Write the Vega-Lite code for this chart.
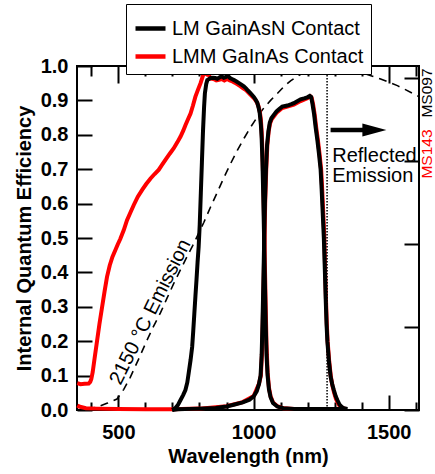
{
  "$schema": "https://vega.github.io/schema/vega-lite/v6.json",
  "width": 342,
  "height": 344,
  "autosize": {"type": "none"},
  "padding": {"left": 77, "top": 66, "right": 16, "bottom": 64},
  "config": {
    "font": "Liberation Sans",
    "view": {"stroke": "black", "strokeWidth": 2},
    "axis": {"domain": false, "grid": false, "ticks": true, "tickWidth": 2, "tickOpacity": 1, "zindex": 2, "labelColor": "black", "titleColor": "black", "labelFontSize": 20, "labelFontWeight": "bold", "titleFontSize": 20, "titleFontWeight": "bold"}
  },
  "datasets": {
    "emission": [
      {"wl": 385, "v": 0.0}, {"wl": 400, "v": 0.004}, {"wl": 430, "v": 0.011}, {"wl": 460, "v": 0.02}, {"wl": 495, "v": 0.032},
      {"wl": 520, "v": 0.06}, {"wl": 544, "v": 0.095}, {"wl": 575, "v": 0.148}, {"wl": 606, "v": 0.203}, {"wl": 630, "v": 0.243},
      {"wl": 656, "v": 0.283}, {"wl": 680, "v": 0.325}, {"wl": 705, "v": 0.368}, {"wl": 730, "v": 0.408}, {"wl": 754, "v": 0.446},
      {"wl": 775, "v": 0.478}, {"wl": 791, "v": 0.504}, {"wl": 816, "v": 0.545}, {"wl": 841, "v": 0.59}, {"wl": 866, "v": 0.633},
      {"wl": 890, "v": 0.675}, {"wl": 915, "v": 0.716}, {"wl": 940, "v": 0.755}, {"wl": 965, "v": 0.79}, {"wl": 989, "v": 0.822},
      {"wl": 1014, "v": 0.852}, {"wl": 1038, "v": 0.878}, {"wl": 1063, "v": 0.9}, {"wl": 1088, "v": 0.92}, {"wl": 1112, "v": 0.94},
      {"wl": 1137, "v": 0.957}, {"wl": 1162, "v": 0.97}, {"wl": 1186, "v": 0.981}, {"wl": 1211, "v": 0.99}, {"wl": 1236, "v": 0.996},
      {"wl": 1260, "v": 0.999}, {"wl": 1285, "v": 1.0}, {"wl": 1310, "v": 0.997}, {"wl": 1350, "v": 0.99}, {"wl": 1409, "v": 0.978},
      {"wl": 1440, "v": 0.97}, {"wl": 1470, "v": 0.962}, {"wl": 1500, "v": 0.953}, {"wl": 1532, "v": 0.943}, {"wl": 1560, "v": 0.932},
      {"wl": 1594, "v": 0.918}, {"wl": 1612, "v": 0.911}
    ],
    "iqe": [
      {"s": "LM GainAsN Contact", "t": "b1", "wl": 699, "v": 0.0}, {"s": "LM GainAsN Contact", "t": "b1", "wl": 710, "v": 0.005},
      {"s": "LM GainAsN Contact", "t": "b1", "wl": 720, "v": 0.014}, {"s": "LM GainAsN Contact", "t": "b1", "wl": 730, "v": 0.029},
      {"s": "LM GainAsN Contact", "t": "b1", "wl": 740, "v": 0.044}, {"s": "LM GainAsN Contact", "t": "b1", "wl": 748, "v": 0.058},
      {"s": "LM GainAsN Contact", "t": "b1", "wl": 755, "v": 0.08}, {"s": "LM GainAsN Contact", "t": "b1", "wl": 760, "v": 0.107},
      {"s": "LM GainAsN Contact", "t": "b1", "wl": 767, "v": 0.145}, {"s": "LM GainAsN Contact", "t": "b1", "wl": 773, "v": 0.184},
      {"s": "LM GainAsN Contact", "t": "b1", "wl": 777, "v": 0.23}, {"s": "LM GainAsN Contact", "t": "b1", "wl": 781, "v": 0.28},
      {"s": "LM GainAsN Contact", "t": "b1", "wl": 785, "v": 0.33}, {"s": "LM GainAsN Contact", "t": "b1", "wl": 789, "v": 0.378},
      {"s": "LM GainAsN Contact", "t": "b1", "wl": 793, "v": 0.43}, {"s": "LM GainAsN Contact", "t": "b1", "wl": 797, "v": 0.475},
      {"s": "LM GainAsN Contact", "t": "b1", "wl": 801, "v": 0.54}, {"s": "LM GainAsN Contact", "t": "b1", "wl": 805, "v": 0.63},
      {"s": "LM GainAsN Contact", "t": "b1", "wl": 809, "v": 0.72}, {"s": "LM GainAsN Contact", "t": "b1", "wl": 813, "v": 0.81},
      {"s": "LM GainAsN Contact", "t": "b1", "wl": 817, "v": 0.88}, {"s": "LM GainAsN Contact", "t": "b1", "wl": 820, "v": 0.92},
      {"s": "LM GainAsN Contact", "t": "b1", "wl": 825, "v": 0.948}, {"s": "LM GainAsN Contact", "t": "b1", "wl": 829, "v": 0.959},
      {"s": "LM GainAsN Contact", "t": "b1", "wl": 835, "v": 0.962}, {"s": "LM GainAsN Contact", "t": "b1", "wl": 841, "v": 0.965},
      {"s": "LM GainAsN Contact", "t": "b1", "wl": 850, "v": 0.966}, {"s": "LM GainAsN Contact", "t": "b1", "wl": 858, "v": 0.965},
      {"s": "LM GainAsN Contact", "t": "b1", "wl": 866, "v": 0.963}, {"s": "LM GainAsN Contact", "t": "b1", "wl": 875, "v": 0.967},
      {"s": "LM GainAsN Contact", "t": "b1", "wl": 882, "v": 0.97}, {"s": "LM GainAsN Contact", "t": "b1", "wl": 890, "v": 0.966},
      {"s": "LM GainAsN Contact", "t": "b1", "wl": 898, "v": 0.968}, {"s": "LM GainAsN Contact", "t": "b1", "wl": 905, "v": 0.972},
      {"s": "LM GainAsN Contact", "t": "b1", "wl": 913, "v": 0.965}, {"s": "LM GainAsN Contact", "t": "b1", "wl": 920, "v": 0.962},
      {"s": "LM GainAsN Contact", "t": "b1", "wl": 928, "v": 0.959}, {"s": "LM GainAsN Contact", "t": "b1", "wl": 937, "v": 0.955},
      {"s": "LM GainAsN Contact", "t": "b1", "wl": 945, "v": 0.951}, {"s": "LM GainAsN Contact", "t": "b1", "wl": 955, "v": 0.946},
      {"s": "LM GainAsN Contact", "t": "b1", "wl": 964, "v": 0.941}, {"s": "LM GainAsN Contact", "t": "b1", "wl": 972, "v": 0.935},
      {"s": "LM GainAsN Contact", "t": "b1", "wl": 980, "v": 0.928}, {"s": "LM GainAsN Contact", "t": "b1", "wl": 990, "v": 0.92},
      {"s": "LM GainAsN Contact", "t": "b1", "wl": 1001, "v": 0.91}, {"s": "LM GainAsN Contact", "t": "b1", "wl": 1008, "v": 0.902},
      {"s": "LM GainAsN Contact", "t": "b1", "wl": 1014, "v": 0.893}, {"s": "LM GainAsN Contact", "t": "b1", "wl": 1019, "v": 0.878},
      {"s": "LM GainAsN Contact", "t": "b1", "wl": 1023, "v": 0.862}, {"s": "LM GainAsN Contact", "t": "b1", "wl": 1027, "v": 0.83},
      {"s": "LM GainAsN Contact", "t": "b1", "wl": 1030, "v": 0.79}, {"s": "LM GainAsN Contact", "t": "b1", "wl": 1033, "v": 0.72},
      {"s": "LM GainAsN Contact", "t": "b1", "wl": 1036, "v": 0.62}, {"s": "LM GainAsN Contact", "t": "b1", "wl": 1039, "v": 0.5},
      {"s": "LM GainAsN Contact", "t": "b1", "wl": 1042, "v": 0.37}, {"s": "LM GainAsN Contact", "t": "b1", "wl": 1045, "v": 0.25},
      {"s": "LM GainAsN Contact", "t": "b1", "wl": 1048, "v": 0.16}, {"s": "LM GainAsN Contact", "t": "b1", "wl": 1052, "v": 0.1},
      {"s": "LM GainAsN Contact", "t": "b1", "wl": 1057, "v": 0.06}, {"s": "LM GainAsN Contact", "t": "b1", "wl": 1063, "v": 0.037},
      {"s": "LM GainAsN Contact", "t": "b1", "wl": 1072, "v": 0.02}, {"s": "LM GainAsN Contact", "t": "b1", "wl": 1088, "v": 0.01},
      {"s": "LM GainAsN Contact", "t": "b1", "wl": 1110, "v": 0.005}, {"s": "LM GainAsN Contact", "t": "b1", "wl": 1150, "v": 0.003},
      {"s": "LM GainAsN Contact", "t": "b1", "wl": 1250, "v": 0.003}, {"s": "LM GainAsN Contact", "t": "b1", "wl": 1347, "v": 0.003},

      {"s": "LM GainAsN Contact", "t": "b2", "wl": 699, "v": 0.0}, {"s": "LM GainAsN Contact", "t": "b2", "wl": 720, "v": 0.002},
      {"s": "LM GainAsN Contact", "t": "b2", "wl": 800, "v": 0.004}, {"s": "LM GainAsN Contact", "t": "b2", "wl": 860, "v": 0.006},
      {"s": "LM GainAsN Contact", "t": "b2", "wl": 900, "v": 0.01}, {"s": "LM GainAsN Contact", "t": "b2", "wl": 930, "v": 0.016},
      {"s": "LM GainAsN Contact", "t": "b2", "wl": 960, "v": 0.022}, {"s": "LM GainAsN Contact", "t": "b2", "wl": 985, "v": 0.03},
      {"s": "LM GainAsN Contact", "t": "b2", "wl": 1001, "v": 0.04}, {"s": "LM GainAsN Contact", "t": "b2", "wl": 1012, "v": 0.055},
      {"s": "LM GainAsN Contact", "t": "b2", "wl": 1020, "v": 0.075}, {"s": "LM GainAsN Contact", "t": "b2", "wl": 1026, "v": 0.1},
      {"s": "LM GainAsN Contact", "t": "b2", "wl": 1030, "v": 0.16}, {"s": "LM GainAsN Contact", "t": "b2", "wl": 1033, "v": 0.25},
      {"s": "LM GainAsN Contact", "t": "b2", "wl": 1036, "v": 0.36}, {"s": "LM GainAsN Contact", "t": "b2", "wl": 1039, "v": 0.48},
      {"s": "LM GainAsN Contact", "t": "b2", "wl": 1042, "v": 0.6}, {"s": "LM GainAsN Contact", "t": "b2", "wl": 1046, "v": 0.7},
      {"s": "LM GainAsN Contact", "t": "b2", "wl": 1050, "v": 0.77}, {"s": "LM GainAsN Contact", "t": "b2", "wl": 1055, "v": 0.81},
      {"s": "LM GainAsN Contact", "t": "b2", "wl": 1060, "v": 0.835}, {"s": "LM GainAsN Contact", "t": "b2", "wl": 1066, "v": 0.848},
      {"s": "LM GainAsN Contact", "t": "b2", "wl": 1075, "v": 0.858}, {"s": "LM GainAsN Contact", "t": "b2", "wl": 1085, "v": 0.868},
      {"s": "LM GainAsN Contact", "t": "b2", "wl": 1095, "v": 0.875}, {"s": "LM GainAsN Contact", "t": "b2", "wl": 1106, "v": 0.882},
      {"s": "LM GainAsN Contact", "t": "b2", "wl": 1125, "v": 0.885}, {"s": "LM GainAsN Contact", "t": "b2", "wl": 1140, "v": 0.889},
      {"s": "LM GainAsN Contact", "t": "b2", "wl": 1149, "v": 0.892}, {"s": "LM GainAsN Contact", "t": "b2", "wl": 1160, "v": 0.897},
      {"s": "LM GainAsN Contact", "t": "b2", "wl": 1174, "v": 0.903}, {"s": "LM GainAsN Contact", "t": "b2", "wl": 1187, "v": 0.906},
      {"s": "LM GainAsN Contact", "t": "b2", "wl": 1199, "v": 0.909}, {"s": "LM GainAsN Contact", "t": "b2", "wl": 1208, "v": 0.913},
      {"s": "LM GainAsN Contact", "t": "b2", "wl": 1213, "v": 0.91}, {"s": "LM GainAsN Contact", "t": "b2", "wl": 1218, "v": 0.89},
      {"s": "LM GainAsN Contact", "t": "b2", "wl": 1224, "v": 0.86}, {"s": "LM GainAsN Contact", "t": "b2", "wl": 1230, "v": 0.82},
      {"s": "LM GainAsN Contact", "t": "b2", "wl": 1236, "v": 0.785}, {"s": "LM GainAsN Contact", "t": "b2", "wl": 1242, "v": 0.745},
      {"s": "LM GainAsN Contact", "t": "b2", "wl": 1248, "v": 0.7}, {"s": "LM GainAsN Contact", "t": "b2", "wl": 1252, "v": 0.64},
      {"s": "LM GainAsN Contact", "t": "b2", "wl": 1256, "v": 0.57}, {"s": "LM GainAsN Contact", "t": "b2", "wl": 1260, "v": 0.5},
      {"s": "LM GainAsN Contact", "t": "b2", "wl": 1264, "v": 0.4}, {"s": "LM GainAsN Contact", "t": "b2", "wl": 1267, "v": 0.32},
      {"s": "LM GainAsN Contact", "t": "b2", "wl": 1270, "v": 0.25}, {"s": "LM GainAsN Contact", "t": "b2", "wl": 1273, "v": 0.2},
      {"s": "LM GainAsN Contact", "t": "b2", "wl": 1279, "v": 0.14}, {"s": "LM GainAsN Contact", "t": "b2", "wl": 1285, "v": 0.097},
      {"s": "LM GainAsN Contact", "t": "b2", "wl": 1291, "v": 0.075}, {"s": "LM GainAsN Contact", "t": "b2", "wl": 1297, "v": 0.058},
      {"s": "LM GainAsN Contact", "t": "b2", "wl": 1304, "v": 0.04}, {"s": "LM GainAsN Contact", "t": "b2", "wl": 1310, "v": 0.029},
      {"s": "LM GainAsN Contact", "t": "b2", "wl": 1318, "v": 0.016}, {"s": "LM GainAsN Contact", "t": "b2", "wl": 1326, "v": 0.009},
      {"s": "LM GainAsN Contact", "t": "b2", "wl": 1334, "v": 0.005}, {"s": "LM GainAsN Contact", "t": "b2", "wl": 1347, "v": 0.003},

      {"s": "LMM GaInAs Contact", "t": "r1", "wl": 348, "v": 0.078}, {"s": "LMM GaInAs Contact", "t": "r1", "wl": 360, "v": 0.075},
      {"s": "LMM GaInAs Contact", "t": "r1", "wl": 375, "v": 0.076}, {"s": "LMM GaInAs Contact", "t": "r1", "wl": 390, "v": 0.077},
      {"s": "LMM GaInAs Contact", "t": "r1", "wl": 396, "v": 0.082}, {"s": "LMM GaInAs Contact", "t": "r1", "wl": 400, "v": 0.09},
      {"s": "LMM GaInAs Contact", "t": "r1", "wl": 405, "v": 0.11}, {"s": "LMM GaInAs Contact", "t": "r1", "wl": 412, "v": 0.15},
      {"s": "LMM GaInAs Contact", "t": "r1", "wl": 421, "v": 0.2}, {"s": "LMM GaInAs Contact", "t": "r1", "wl": 430, "v": 0.25},
      {"s": "LMM GaInAs Contact", "t": "r1", "wl": 440, "v": 0.3}, {"s": "LMM GaInAs Contact", "t": "r1", "wl": 449, "v": 0.345},
      {"s": "LMM GaInAs Contact", "t": "r1", "wl": 458, "v": 0.387}, {"s": "LMM GaInAs Contact", "t": "r1", "wl": 468, "v": 0.42},
      {"s": "LMM GaInAs Contact", "t": "r1", "wl": 478, "v": 0.445}, {"s": "LMM GaInAs Contact", "t": "r1", "wl": 489, "v": 0.465},
      {"s": "LMM GaInAs Contact", "t": "r1", "wl": 498, "v": 0.482}, {"s": "LMM GaInAs Contact", "t": "r1", "wl": 507, "v": 0.497},
      {"s": "LMM GaInAs Contact", "t": "r1", "wl": 520, "v": 0.523}, {"s": "LMM GaInAs Contact", "t": "r1", "wl": 532, "v": 0.552},
      {"s": "LMM GaInAs Contact", "t": "r1", "wl": 545, "v": 0.575}, {"s": "LMM GaInAs Contact", "t": "r1", "wl": 557, "v": 0.596},
      {"s": "LMM GaInAs Contact", "t": "r1", "wl": 572, "v": 0.62}, {"s": "LMM GaInAs Contact", "t": "r1", "wl": 588, "v": 0.64},
      {"s": "LMM GaInAs Contact", "t": "r1", "wl": 603, "v": 0.657}, {"s": "LMM GaInAs Contact", "t": "r1", "wl": 619, "v": 0.673},
      {"s": "LMM GaInAs Contact", "t": "r1", "wl": 634, "v": 0.686}, {"s": "LMM GaInAs Contact", "t": "r1", "wl": 649, "v": 0.698},
      {"s": "LMM GaInAs Contact", "t": "r1", "wl": 662, "v": 0.713}, {"s": "LMM GaInAs Contact", "t": "r1", "wl": 674, "v": 0.727},
      {"s": "LMM GaInAs Contact", "t": "r1", "wl": 690, "v": 0.745}, {"s": "LMM GaInAs Contact", "t": "r1", "wl": 705, "v": 0.761},
      {"s": "LMM GaInAs Contact", "t": "r1", "wl": 718, "v": 0.778}, {"s": "LMM GaInAs Contact", "t": "r1", "wl": 730, "v": 0.795},
      {"s": "LMM GaInAs Contact", "t": "r1", "wl": 740, "v": 0.812}, {"s": "LMM GaInAs Contact", "t": "r1", "wl": 748, "v": 0.828},
      {"s": "LMM GaInAs Contact", "t": "r1", "wl": 758, "v": 0.846}, {"s": "LMM GaInAs Contact", "t": "r1", "wl": 767, "v": 0.862},
      {"s": "LMM GaInAs Contact", "t": "r1", "wl": 776, "v": 0.885}, {"s": "LMM GaInAs Contact", "t": "r1", "wl": 785, "v": 0.911},
      {"s": "LMM GaInAs Contact", "t": "r1", "wl": 795, "v": 0.932}, {"s": "LMM GaInAs Contact", "t": "r1", "wl": 804, "v": 0.95},
      {"s": "LMM GaInAs Contact", "t": "r1", "wl": 810, "v": 0.965}, {"s": "LMM GaInAs Contact", "t": "r1", "wl": 816, "v": 0.979},
      {"s": "LMM GaInAs Contact", "t": "r1", "wl": 822, "v": 0.978}, {"s": "LMM GaInAs Contact", "t": "r1", "wl": 828, "v": 0.975},
      {"s": "LMM GaInAs Contact", "t": "r1", "wl": 834, "v": 0.974}, {"s": "LMM GaInAs Contact", "t": "r1", "wl": 842, "v": 0.963},
      {"s": "LMM GaInAs Contact", "t": "r1", "wl": 852, "v": 0.962}, {"s": "LMM GaInAs Contact", "t": "r1", "wl": 862, "v": 0.958},
      {"s": "LMM GaInAs Contact", "t": "r1", "wl": 872, "v": 0.96}, {"s": "LMM GaInAs Contact", "t": "r1", "wl": 882, "v": 0.962},
      {"s": "LMM GaInAs Contact", "t": "r1", "wl": 892, "v": 0.958}, {"s": "LMM GaInAs Contact", "t": "r1", "wl": 902, "v": 0.962},
      {"s": "LMM GaInAs Contact", "t": "r1", "wl": 912, "v": 0.958}, {"s": "LMM GaInAs Contact", "t": "r1", "wl": 922, "v": 0.955},
      {"s": "LMM GaInAs Contact", "t": "r1", "wl": 932, "v": 0.951}, {"s": "LMM GaInAs Contact", "t": "r1", "wl": 942, "v": 0.946},
      {"s": "LMM GaInAs Contact", "t": "r1", "wl": 952, "v": 0.941}, {"s": "LMM GaInAs Contact", "t": "r1", "wl": 962, "v": 0.935},
      {"s": "LMM GaInAs Contact", "t": "r1", "wl": 972, "v": 0.93}, {"s": "LMM GaInAs Contact", "t": "r1", "wl": 982, "v": 0.922},
      {"s": "LMM GaInAs Contact", "t": "r1", "wl": 992, "v": 0.914}, {"s": "LMM GaInAs Contact", "t": "r1", "wl": 1003, "v": 0.905},
      {"s": "LMM GaInAs Contact", "t": "r1", "wl": 1012, "v": 0.895}, {"s": "LMM GaInAs Contact", "t": "r1", "wl": 1018, "v": 0.884},
      {"s": "LMM GaInAs Contact", "t": "r1", "wl": 1023, "v": 0.868}, {"s": "LMM GaInAs Contact", "t": "r1", "wl": 1027, "v": 0.845},
      {"s": "LMM GaInAs Contact", "t": "r1", "wl": 1030, "v": 0.81}, {"s": "LMM GaInAs Contact", "t": "r1", "wl": 1033, "v": 0.75},
      {"s": "LMM GaInAs Contact", "t": "r1", "wl": 1036, "v": 0.66}, {"s": "LMM GaInAs Contact", "t": "r1", "wl": 1039, "v": 0.55},
      {"s": "LMM GaInAs Contact", "t": "r1", "wl": 1042, "v": 0.42}, {"s": "LMM GaInAs Contact", "t": "r1", "wl": 1045, "v": 0.3},
      {"s": "LMM GaInAs Contact", "t": "r1", "wl": 1048, "v": 0.19}, {"s": "LMM GaInAs Contact", "t": "r1", "wl": 1052, "v": 0.11},
      {"s": "LMM GaInAs Contact", "t": "r1", "wl": 1057, "v": 0.065}, {"s": "LMM GaInAs Contact", "t": "r1", "wl": 1063, "v": 0.04},
      {"s": "LMM GaInAs Contact", "t": "r1", "wl": 1072, "v": 0.022}, {"s": "LMM GaInAs Contact", "t": "r1", "wl": 1088, "v": 0.011},
      {"s": "LMM GaInAs Contact", "t": "r1", "wl": 1110, "v": 0.005}, {"s": "LMM GaInAs Contact", "t": "r1", "wl": 1150, "v": 0.003},
      {"s": "LMM GaInAs Contact", "t": "r1", "wl": 1340, "v": 0.003},

      {"s": "LMM GaInAs Contact", "t": "r2", "wl": 348, "v": 0.013}, {"s": "LMM GaInAs Contact", "t": "r2", "wl": 355, "v": 0.01},
      {"s": "LMM GaInAs Contact", "t": "r2", "wl": 365, "v": 0.008}, {"s": "LMM GaInAs Contact", "t": "r2", "wl": 380, "v": 0.005},
      {"s": "LMM GaInAs Contact", "t": "r2", "wl": 420, "v": 0.004}, {"s": "LMM GaInAs Contact", "t": "r2", "wl": 500, "v": 0.003},
      {"s": "LMM GaInAs Contact", "t": "r2", "wl": 600, "v": 0.002}, {"s": "LMM GaInAs Contact", "t": "r2", "wl": 700, "v": 0.002},
      {"s": "LMM GaInAs Contact", "t": "r2", "wl": 800, "v": 0.004}, {"s": "LMM GaInAs Contact", "t": "r2", "wl": 900, "v": 0.011},
      {"s": "LMM GaInAs Contact", "t": "r2", "wl": 960, "v": 0.023}, {"s": "LMM GaInAs Contact", "t": "r2", "wl": 1001, "v": 0.041},
      {"s": "LMM GaInAs Contact", "t": "r2", "wl": 1020, "v": 0.076}, {"s": "LMM GaInAs Contact", "t": "r2", "wl": 1027, "v": 0.1},
      {"s": "LMM GaInAs Contact", "t": "r2", "wl": 1031, "v": 0.16}, {"s": "LMM GaInAs Contact", "t": "r2", "wl": 1034, "v": 0.25},
      {"s": "LMM GaInAs Contact", "t": "r2", "wl": 1037, "v": 0.36}, {"s": "LMM GaInAs Contact", "t": "r2", "wl": 1040, "v": 0.48},
      {"s": "LMM GaInAs Contact", "t": "r2", "wl": 1043, "v": 0.6}, {"s": "LMM GaInAs Contact", "t": "r2", "wl": 1047, "v": 0.7},
      {"s": "LMM GaInAs Contact", "t": "r2", "wl": 1051, "v": 0.77}, {"s": "LMM GaInAs Contact", "t": "r2", "wl": 1056, "v": 0.81},
      {"s": "LMM GaInAs Contact", "t": "r2", "wl": 1061, "v": 0.833}, {"s": "LMM GaInAs Contact", "t": "r2", "wl": 1067, "v": 0.845},
      {"s": "LMM GaInAs Contact", "t": "r2", "wl": 1085, "v": 0.864}, {"s": "LMM GaInAs Contact", "t": "r2", "wl": 1106, "v": 0.878},
      {"s": "LMM GaInAs Contact", "t": "r2", "wl": 1125, "v": 0.882}, {"s": "LMM GaInAs Contact", "t": "r2", "wl": 1149, "v": 0.888},
      {"s": "LMM GaInAs Contact", "t": "r2", "wl": 1174, "v": 0.898}, {"s": "LMM GaInAs Contact", "t": "r2", "wl": 1199, "v": 0.906},
      {"s": "LMM GaInAs Contact", "t": "r2", "wl": 1210, "v": 0.912}, {"s": "LMM GaInAs Contact", "t": "r2", "wl": 1215, "v": 0.908},
      {"s": "LMM GaInAs Contact", "t": "r2", "wl": 1220, "v": 0.89}, {"s": "LMM GaInAs Contact", "t": "r2", "wl": 1226, "v": 0.86},
      {"s": "LMM GaInAs Contact", "t": "r2", "wl": 1232, "v": 0.82}, {"s": "LMM GaInAs Contact", "t": "r2", "wl": 1238, "v": 0.785},
      {"s": "LMM GaInAs Contact", "t": "r2", "wl": 1244, "v": 0.745}, {"s": "LMM GaInAs Contact", "t": "r2", "wl": 1250, "v": 0.7},
      {"s": "LMM GaInAs Contact", "t": "r2", "wl": 1254, "v": 0.64}, {"s": "LMM GaInAs Contact", "t": "r2", "wl": 1258, "v": 0.57},
      {"s": "LMM GaInAs Contact", "t": "r2", "wl": 1262, "v": 0.5}, {"s": "LMM GaInAs Contact", "t": "r2", "wl": 1265, "v": 0.4},
      {"s": "LMM GaInAs Contact", "t": "r2", "wl": 1268, "v": 0.32}, {"s": "LMM GaInAs Contact", "t": "r2", "wl": 1271, "v": 0.25},
      {"s": "LMM GaInAs Contact", "t": "r2", "wl": 1274, "v": 0.2}, {"s": "LMM GaInAs Contact", "t": "r2", "wl": 1280, "v": 0.14},
      {"s": "LMM GaInAs Contact", "t": "r2", "wl": 1286, "v": 0.097}, {"s": "LMM GaInAs Contact", "t": "r2", "wl": 1292, "v": 0.07},
      {"s": "LMM GaInAs Contact", "t": "r2", "wl": 1298, "v": 0.05}, {"s": "LMM GaInAs Contact", "t": "r2", "wl": 1305, "v": 0.032},
      {"s": "LMM GaInAs Contact", "t": "r2", "wl": 1312, "v": 0.02}, {"s": "LMM GaInAs Contact", "t": "r2", "wl": 1320, "v": 0.01},
      {"s": "LMM GaInAs Contact", "t": "r2", "wl": 1330, "v": 0.005}, {"s": "LMM GaInAs Contact", "t": "r2", "wl": 1340, "v": 0.003}
    ],
    "annot": [
      {"kind": "cutoff", "wl": 1272},
      {"kind": "arrow", "wl": 1285, "wl2": 1425, "v": 0.814},
      {"kind": "head", "wl": 1447, "v": 0.814},
      {"kind": "bb", "label": "2150 °C Emission", "wl": 618, "v": 0.285},
      {"kind": "refl", "label": "Reflected", "wl": 1291, "v": 0.7218},
      {"kind": "refl", "label": "Emission", "wl": 1291, "v": 0.6637},
      {"kind": "ms097", "label": "MS097", "wl": 1641, "v": 0.9215},
      {"kind": "ms143", "label": "MS143", "wl": 1641, "v": 0.7442}
    ]
  },
  "resolve": {"axis": {"x": "independent", "y": "independent"}},
  "layer": [
    {
      "data": {"name": "emission"},
      "mark": {"type": "line", "color": "black", "strokeWidth": 1.6, "strokeDash": [8, 6]},
      "encoding": {
        "x": {"field": "wl", "type": "quantitative", "scale": {"domain": [347, 1612], "nice": false, "zero": false}, "axis": null},
        "y": {"field": "v", "type": "quantitative", "scale": {"domain": [0, 1], "nice": false, "zero": false}, "axis": null}
      }
    },
    {
      "data": {"name": "iqe"},
      "transform": [{"filter": "datum.t === 'r1'"}],
      "mark": {"type": "line", "strokeWidth": 4, "color": "#ff0000"},
      "encoding": {
        "x": {"field": "wl", "type": "quantitative", "scale": {"domain": [347, 1612], "nice": false, "zero": false}, "axis": null},
        "y": {"field": "v", "type": "quantitative", "scale": {"domain": [0, 1], "nice": false, "zero": false}, "axis": null}
      }
    },
    {
      "data": {"name": "iqe"},
      "transform": [{"filter": "datum.t === 'r2'"}],
      "mark": {"type": "line", "strokeWidth": 4, "color": "#ff0000"},
      "encoding": {
        "x": {"field": "wl", "type": "quantitative", "scale": {"domain": [347, 1612], "nice": false, "zero": false}, "axis": null},
        "y": {"field": "v", "type": "quantitative", "scale": {"domain": [0, 1], "nice": false, "zero": false}, "axis": null}
      }
    },
    {
      "data": {"name": "iqe"},
      "transform": [{"filter": "datum.t === 'b1'"}],
      "mark": {"type": "line", "strokeWidth": 4, "color": "#000000"},
      "encoding": {
        "x": {"field": "wl", "type": "quantitative", "scale": {"domain": [347, 1612], "nice": false, "zero": false}, "axis": null},
        "y": {"field": "v", "type": "quantitative", "scale": {"domain": [0, 1], "nice": false, "zero": false}, "axis": null}
      }
    },
    {
      "data": {"name": "iqe"},
      "transform": [{"filter": "datum.t === 'b2'"}],
      "mark": {"type": "line", "strokeWidth": 4, "color": "#000000"},
      "encoding": {
        "x": {"field": "wl", "type": "quantitative", "scale": {"domain": [347, 1612], "nice": false, "zero": false}, "axis": null},
        "y": {"field": "v", "type": "quantitative", "scale": {"domain": [0, 1], "nice": false, "zero": false}, "axis": null}
      }
    },
    {
      "data": {"name": "iqe"},
      "transform": [{"filter": "false"}],
      "mark": {"type": "rule", "strokeWidth": 4},
      "encoding": {
        "x": {"field": "wl", "type": "quantitative", "scale": {"domain": [347, 1612], "nice": false, "zero": false}, "axis": null},
        "y": {"field": "v", "type": "quantitative", "scale": {"domain": [0, 1], "nice": false, "zero": false}, "axis": null},
        "color": {"field": "s", "type": "nominal",
          "scale": {"domain": ["LM GainAsN Contact", "LMM GaInAs Contact"], "range": ["#000000", "#ff0000"]},
          "legend": {"title": null, "orient": "none", "legendX": 49, "legendY": -62, "strokeColor": "black", "fillColor": "white", "padding": 7, "labelFontSize": 20, "labelColor": "black", "symbolType": "stroke", "symbolSize": 900, "symbolStrokeWidth": 4.5, "labelOffset": 4, "rowPadding": 0, "labelLimit": 400}}
      }
    },
    {
      "data": {"name": "annot"},
      "transform": [{"filter": "datum.kind === 'cutoff'"}],
      "mark": {"type": "rule", "color": "black", "strokeWidth": 1.5, "strokeDash": [1.5, 1.5]},
      "encoding": {
        "x": {"field": "wl", "type": "quantitative", "scale": {"domain": [347, 1612], "nice": false, "zero": false}, "axis": null}
      }
    },
    {
      "data": {"name": "annot"},
      "transform": [{"filter": "datum.kind === 'arrow'"}],
      "mark": {"type": "rule", "color": "black", "strokeWidth": 4.5},
      "encoding": {
        "x": {"field": "wl", "type": "quantitative", "scale": {"domain": [347, 1612], "nice": false, "zero": false},
          "axis": {"orient": "bottom", "values": [500, 1000, 1500], "format": "d", "ticks": true, "tickSize": -15, "tickColor": "black",
            "labelPadding": 27, "title": "Wavelength (nm)", "titlePadding": 4}},
        "x2": {"field": "wl2"},
        "y": {"field": "v", "type": "quantitative", "scale": {"domain": [0, 1], "nice": false, "zero": false},
          "axis": {"orient": "left", "values": [0, 0.1, 0.2, 0.3, 0.4, 0.5, 0.6, 0.7, 0.8, 0.9, 1.0], "format": ".1f", "ticks": true,
            "tickSize": -15, "tickColor": "black", "labelPadding": 24,
            "title": "Internal Quantum Efficiency", "titlePadding": 6}}
      }
    },
    {
      "data": {"name": "annot"},
      "transform": [{"filter": "datum.kind === 'head'"}],
      "mark": {"type": "point", "shape": "M-1,-0.55L1,0L-1,0.55Z", "size": 576, "filled": true, "color": "black", "opacity": 1, "strokeWidth": 0},
      "encoding": {
        "x": {"field": "wl", "type": "quantitative", "scale": {"domain": [347, 1612], "nice": false, "zero": false},
          "axis": {"orient": "top", "values": [500, 1000, 1500], "labels": false, "title": null, "ticks": true, "tickSize": -17, "tickColor": "black"}},
        "y": {"field": "v", "type": "quantitative", "scale": {"domain": [0, 1], "nice": false, "zero": false},
          "axis": {"orient": "right", "values": [0, 0.2413, 0.4826, 0.7238, 0.9651], "labels": false, "title": null, "ticks": true, "tickSize": -15, "tickColor": "black"}}
      }
    },
    {
      "data": {"name": "annot"},
      "transform": [{"filter": "datum.kind === 'bb'"}],
      "mark": {"type": "text", "fontSize": 20, "angle": 296.3, "align": "center", "baseline": "middle", "color": "black"},
      "encoding": {
        "x": {"field": "wl", "type": "quantitative", "scale": {"domain": [347, 1612], "nice": false, "zero": false},
          "axis": {"orient": "bottom", "values": [400, 600, 700, 800, 900, 1100, 1200, 1300, 1400, 1600], "labels": false, "title": null, "ticks": true, "tickSize": -8, "tickColor": "black"}},
        "y": {"field": "v", "type": "quantitative", "scale": {"domain": [0, 1], "nice": false, "zero": false}, "axis": null},
        "text": {"field": "label"}
      }
    },
    {
      "data": {"name": "annot"},
      "transform": [{"filter": "datum.kind === 'refl'"}],
      "mark": {"type": "text", "fontSize": 20, "align": "left", "baseline": "alphabetic", "color": "black"},
      "encoding": {
        "x": {"field": "wl", "type": "quantitative", "scale": {"domain": [347, 1612], "nice": false, "zero": false},
          "axis": {"orient": "top", "values": [400, 600, 700, 800, 900, 1100, 1200, 1300, 1400, 1600], "labels": false, "title": null, "ticks": true, "tickSize": -10, "tickColor": "black"}},
        "y": {"field": "v", "type": "quantitative", "scale": {"domain": [0, 1], "nice": false, "zero": false}, "axis": null},
        "text": {"field": "label"}
      }
    },
    {
      "data": {"name": "annot"},
      "transform": [{"filter": "datum.kind === 'ms097'"}],
      "mark": {"type": "text", "fontSize": 15.5, "angle": 270, "align": "center", "baseline": "middle", "color": "black", "clip": false},
      "encoding": {
        "x": {"field": "wl", "type": "quantitative", "scale": {"domain": [347, 1612], "nice": false, "zero": false}, "axis": null},
        "y": {"field": "v", "type": "quantitative", "scale": {"domain": [0, 1], "nice": false, "zero": false}, "axis": null},
        "text": {"field": "label"}
      }
    },
    {
      "data": {"name": "annot"},
      "transform": [{"filter": "datum.kind === 'ms143'"}],
      "mark": {"type": "text", "fontSize": 15.5, "angle": 270, "align": "center", "baseline": "middle", "color": "#ff0000", "clip": false},
      "encoding": {
        "x": {"field": "wl", "type": "quantitative", "scale": {"domain": [347, 1612], "nice": false, "zero": false}, "axis": null},
        "y": {"field": "v", "type": "quantitative", "scale": {"domain": [0, 1], "nice": false, "zero": false}, "axis": null},
        "text": {"field": "label"}
      }
    }
  ]
}
